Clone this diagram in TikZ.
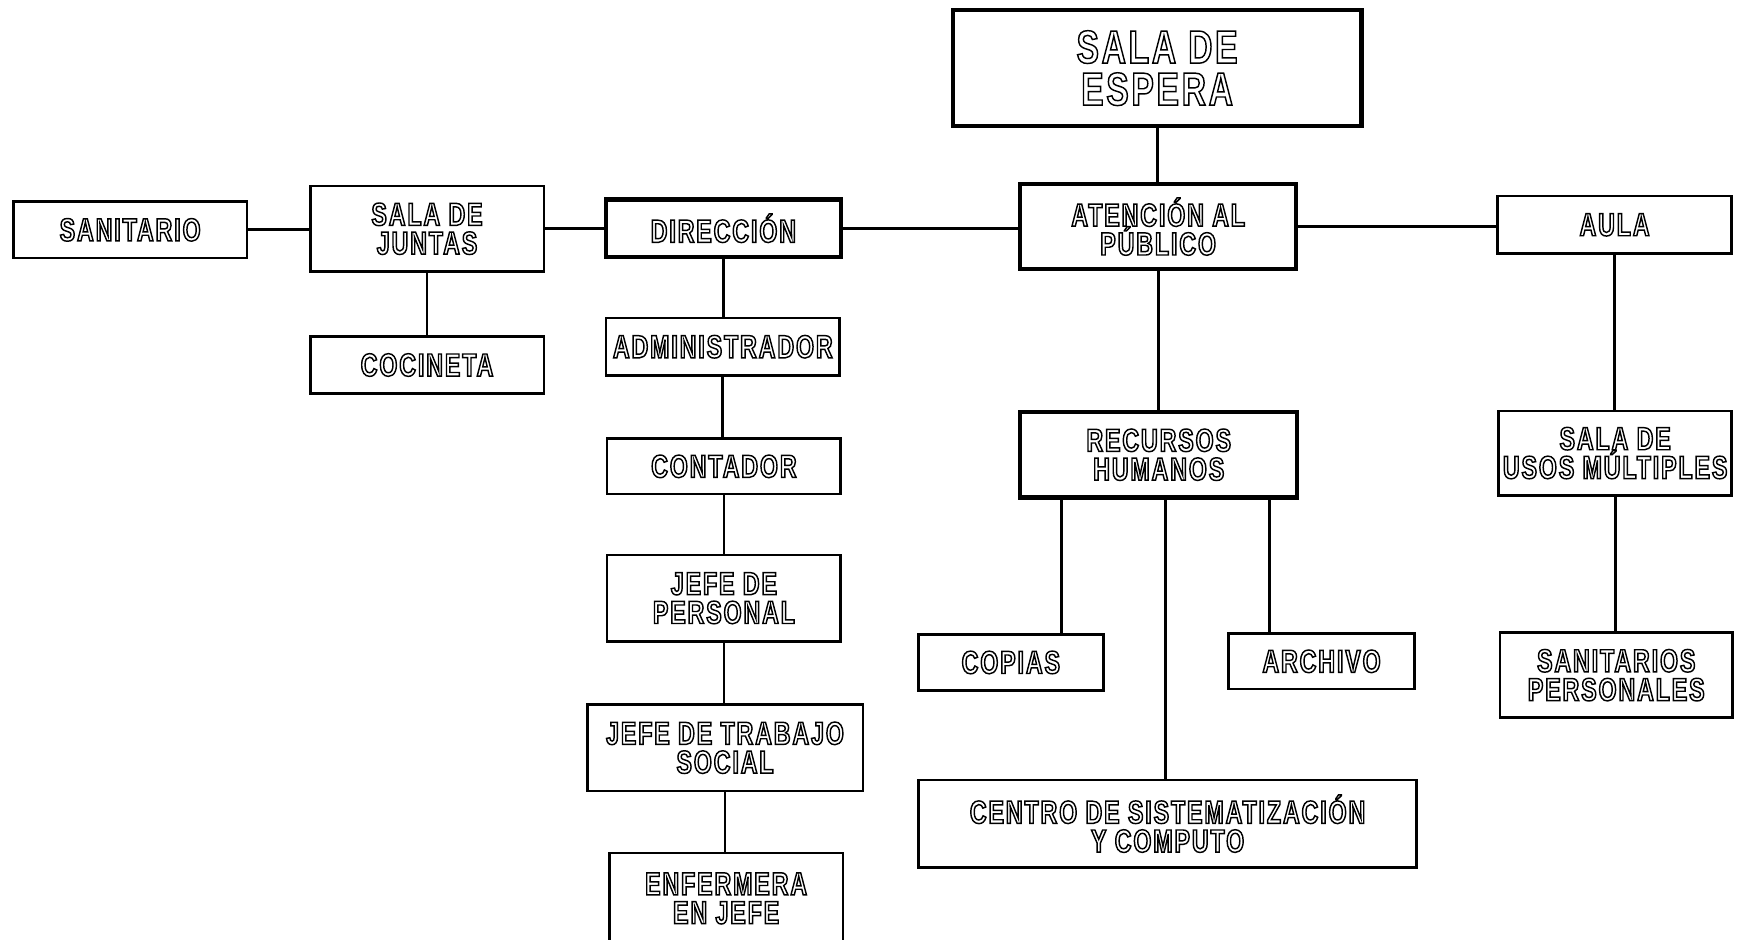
\documentclass[tikz,border=0pt]{standalone}
\usepackage{fontspec}
\setmainfont{Liberation Sans}[FakeStretch=0.72, LetterSpace=6]
% outlined lettering: glyphs stroked only (PDF text render mode 1)
\newcommand\ot[1]{\special{pdf:literal direct 1 Tr 1.3 w}#1\special{pdf:literal direct 0 Tr}}
\newcommand\lab{\bfseries\fontsize{29}{26}\selectfont}
\newcommand\labbig{\bfseries\fontsize{42}{38}\selectfont}
\tikzset{
  box/.style={draw, line width=2.5pt, inner sep=0pt, align=center, font=\lab, text=black},
  bigbox/.style={box, line width=3.8pt},
  link/.style={line width=2.6pt},
}
\begin{document}
\begin{tikzpicture}[x=1pt, y=-1pt]
\clip (0,0) rectangle (1568,848);
\fill[white] (0,0) rectangle (1568,848);

% central column
\node[bigbox, font=\labbig, minimum width=369pt, minimum height=105pt] (esp) at (1044.5,61.5) {\ot{SALA DE}\\\ot{ESPERA}};
\node[bigbox, minimum width=249pt, minimum height=77pt] (at) at (1045.5,204.5) {\ot{ATENCIÓN AL}\\\ot{PÚBLICO}};
\node[bigbox, minimum width=250pt, minimum height=77pt] (rh) at (1046,410.5) {\ot{RECURSOS}\\\ot{HUMANOS}};
\node[box, minimum width=167pt, minimum height=50pt] (cop) at (912.5,598) {\ot{COPIAS}};
\node[box, minimum width=168pt, minimum height=50pt] (arch) at (1193,597) {\ot{ARCHIVO}};
\node[box, minimum width=450pt, minimum height=79pt] (cen) at (1054,743.5) {\ot{CENTRO DE SISTEMATIZACIÓN}\\\ot{Y COMPUTO}};

% right column
\node[box, minimum width=211pt, minimum height=52pt] (aula) at (1457.5,203) {\ot{AULA}};
\node[box, minimum width=210pt, minimum height=76pt] (usos) at (1458,409) {\ot{SALA DE}\\\ot{USOS MÚLTIPLES}};
\node[box, minimum width=210pt, minimum height=77pt] (sanp) at (1459,609.5) {\ot{SANITARIOS}\\\ot{PERSONALES}};

% left side
\node[box, minimum width=211pt, minimum height=51pt] (san) at (117.5,207.5) {\ot{SANITARIO}};
\node[box, minimum width=211pt, minimum height=77pt] (sj) at (385.5,206.5) {\ot{SALA DE}\\\ot{JUNTAS}};
\node[box, minimum width=211pt, minimum height=51pt] (coc) at (385.5,329.5) {\ot{COCINETA}};

% management chain
\node[bigbox, minimum width=212pt, minimum height=52pt] (dir) at (653,206) {\ot{DIRECCIÓN}};
\node[box, minimum width=211pt, minimum height=52pt] (adm) at (652.5,313) {\ot{ADMINISTRADOR}};
\node[box, minimum width=211pt, minimum height=50pt] (cont) at (653.5,421) {\ot{CONTADOR}};
\node[box, minimum width=211pt, minimum height=78pt] (jp) at (653.5,540) {\ot{JEFE DE}\\\ot{PERSONAL}};
\node[box, minimum width=249pt, minimum height=78pt] (jts) at (654.5,675) {\ot{JEFE DE TRABAJO}\\\ot{SOCIAL}};
\node[box, minimum width=211pt, minimum height=82pt] (enf) at (655.5,811) {\ot{ENFERMERA}\\\ot{EN JEFE}};

% drop points under RECURSOS HUMANOS
\coordinate (d1) at (958,0);
\coordinate (d2) at (1052,0);
\coordinate (d3) at (1146,0);

% horizontal links
\draw[link] (san.east) -- (san.east -| sj.west);
\draw[link] (sj.east) -- (sj.east -| dir.west);
\draw[link] (dir.east) -- (dir.east -| at.west);
\draw[link] (at.east) -- (at.east -| aula.west);

% vertical links
\draw[link] (esp.south) -- (esp.south |- at.north);
\draw[link] (at.south) -- (at.south |- rh.north);
\draw[link] (sj.south) -- (sj.south |- coc.north);
\draw[link] (dir.south) -- (dir.south |- adm.north);
\draw[link] (adm.south) -- (adm.south |- cont.north);
\draw[link] (cont.south) -- (cont.south |- jp.north);
\draw[link] (jp.south) -- (jp.south |- jts.north);
\draw[link] (jts.south) -- (jts.south |- enf.north);
\draw[link] (rh.south -| d1) -- (cop.north -| d1);
\draw[link] (rh.south -| d2) -- (cen.north -| d2);
\draw[link] (rh.south -| d3) -- (arch.north -| d3);
\draw[link] (aula.south) -- (aula.south |- usos.north);
\draw[link] (usos.south) -- (usos.south |- sanp.north);
\end{tikzpicture}
\end{document}
